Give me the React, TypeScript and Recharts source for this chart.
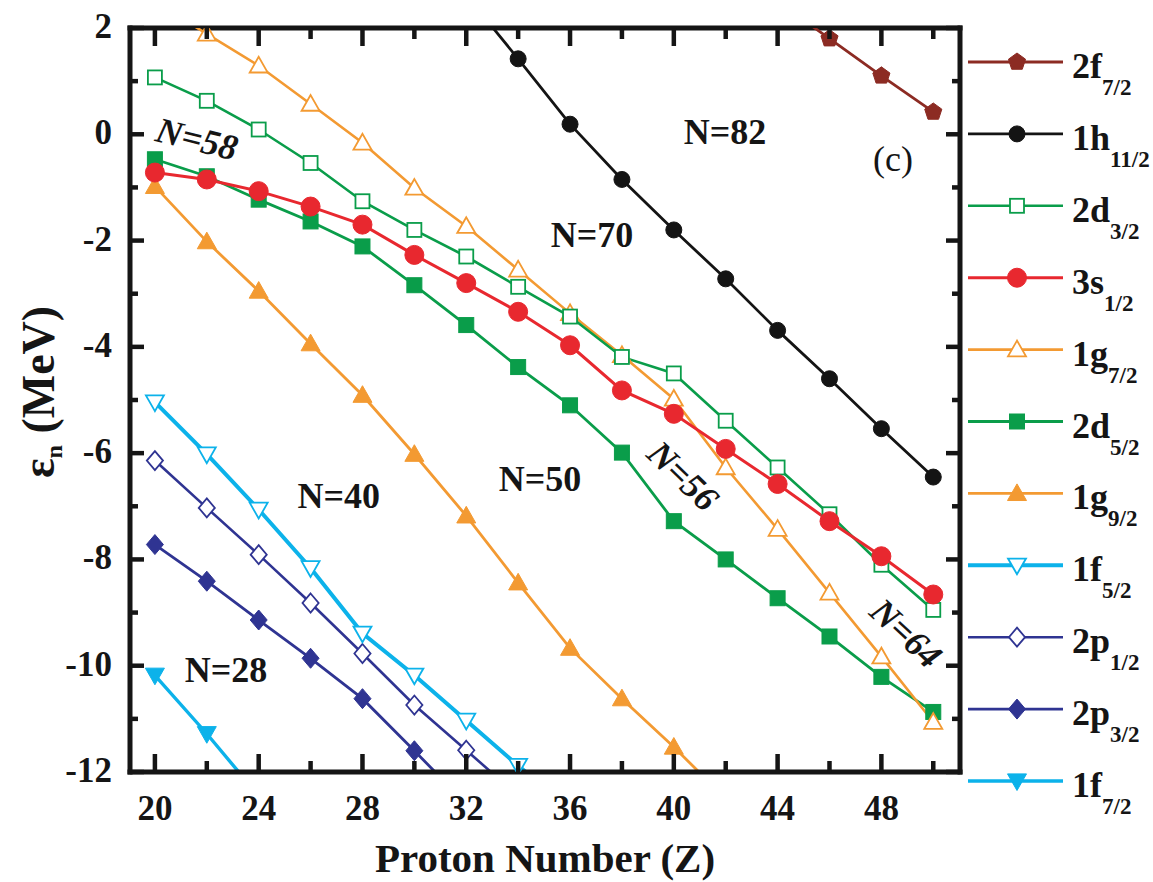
import React from 'react';
import { LineChart, Line, XAxis, YAxis, ReferenceLine, ReferenceDot, Legend, Label } from 'recharts';

const FONT = '"Liberation Serif", Tinos, "Times New Roman", "DejaVu Serif", serif';
const INK = '#151515';

const W = 1153;
const H = 882;
const M_TOP = 28;
const M_RIGHT = 193;
const Y_AXIS_W = 130;
const X_AXIS_H = 110;
const PLOT_W = W - M_RIGHT - Y_AXIS_W;
const PLOT_H = H - M_TOP - X_AXIS_H;

const X_MIN = 19.04;
const X_MAX = 51.03;
const Y_MIN = -12;
const Y_MAX = 2;

const X_TICKS = [20, 22, 24, 26, 28, 30, 32, 34, 36, 38, 40, 42, 44, 46, 48, 50];
const X_LABELED = [20, 24, 28, 32, 36, 40, 44, 48];
const Y_TICKS = [2, 1, 0, -1, -2, -3, -4, -5, -6, -7, -8, -9, -10, -11, -12];
const Y_LABELED = [2, 0, -2, -4, -6, -8, -10, -12];

// Proton numbers and single-particle energies (MeV)
const Z_2F72 = [44, 46, 48, 50];
const E_2F72 = [2.5, 1.8, 1.1, 0.42];

const Z_1H112 = [32, 34, 36, 38, 40, 42, 44, 46, 48, 50];
const E_1H112 = [2.62, 1.42, 0.19, -0.85, -1.8, -2.72, -3.69, -4.6, -5.54, -6.45];

const Z_FULL = [20, 22, 24, 26, 28, 30, 32, 34, 36, 38, 40, 42, 44, 46, 48, 50];
const E_2D32 = [1.07, 0.63, 0.09, -0.54, -1.26, -1.8, -2.3, -2.87, -3.43, -4.19, -4.5, -5.39, -6.27, -7.15, -8.1, -8.95];
const E_3S12 = [-0.72, -0.85, -1.07, -1.36, -1.7, -2.27, -2.8, -3.34, -3.97, -4.82, -5.26, -5.92, -6.58, -7.28, -7.94, -8.66];
const E_1G72 = [2.49, 1.89, 1.29, 0.57, -0.16, -1.01, -1.73, -2.55, -3.37, -4.16, -4.98, -6.27, -7.43, -8.63, -9.83, -11.06];
const E_2D52 = [-0.47, -0.79, -1.23, -1.64, -2.11, -2.84, -3.59, -4.38, -5.1, -5.99, -7.28, -8.0, -8.73, -9.45, -10.21, -10.87];

const Z_1G92 = [20, 22, 24, 26, 28, 30, 32, 34, 36, 38, 40, 42];
const E_1G92 = [-0.98, -2.02, -2.95, -3.94, -4.91, -6.02, -7.18, -8.44, -9.67, -10.62, -11.53, -12.5];

const Z_1F52 = [20, 22, 24, 26, 28, 30, 32, 34, 36];
const E_1F52 = [-5.04, -6.02, -7.06, -8.16, -9.39, -10.18, -11.03, -11.88, -12.7];

const Z_2P12 = [20, 22, 24, 26, 28, 30, 32, 34];
const E_2P12 = [-6.14, -7.03, -7.91, -8.82, -9.77, -10.74, -11.59, -12.45];

const Z_2P32 = [20, 22, 24, 26, 28, 30, 32];
const E_2P32 = [-7.72, -8.41, -9.14, -9.86, -10.62, -11.6, -12.6];

const Z_1F72 = [20, 22, 24];
const E_1F72 = [-10.18, -11.28, -12.45];

type Shape = 'circle' | 'square' | 'triUp' | 'triDown' | 'diamond' | 'pentagon';

interface Series {
  id: string;
  main: string;
  sub: string;
  color: string;
  shape: Shape;
  open: boolean;
  size: number;
  width: number;
  z: number[];
  e: number[];
}

const BROWN = '#8c2b23';
const BLACK = '#141414';
const GREEN = '#0a9d4a';
const RED = '#e8282f';
const ORANGE = '#f39a32';
const CYAN = '#0cb2ea';
const NAVY = '#2f3492';

const S_2F72: Series = { id: '2f72', main: '2f', sub: '7/2', color: BROWN, shape: 'pentagon', open: false, size: 9, width: 2.8, z: Z_2F72, e: E_2F72 };
const S_1H112: Series = { id: '1h112', main: '1h', sub: '11/2', color: BLACK, shape: 'circle', open: false, size: 8, width: 2.8, z: Z_1H112, e: E_1H112 };
const S_2D32: Series = { id: '2d32', main: '2d', sub: '3/2', color: GREEN, shape: 'square', open: true, size: 7, width: 2.6, z: Z_FULL, e: E_2D32 };
const S_3S12: Series = { id: '3s12', main: '3s', sub: '1/2', color: RED, shape: 'circle', open: false, size: 9.5, width: 3, z: Z_FULL, e: E_3S12 };
const S_1G72: Series = { id: '1g72', main: '1g', sub: '7/2', color: ORANGE, shape: 'triUp', open: true, size: 9, width: 2.6, z: Z_FULL, e: E_1G72 };
const S_2D52: Series = { id: '2d52', main: '2d', sub: '5/2', color: GREEN, shape: 'square', open: false, size: 7.5, width: 2.8, z: Z_FULL, e: E_2D52 };
const S_1G92: Series = { id: '1g92', main: '1g', sub: '9/2', color: ORANGE, shape: 'triUp', open: false, size: 9.5, width: 2.8, z: Z_1G92, e: E_1G92 };
const S_1F52: Series = { id: '1f52', main: '1f', sub: '5/2', color: CYAN, shape: 'triDown', open: true, size: 9, width: 4, z: Z_1F52, e: E_1F52 };
const S_2P12: Series = { id: '2p12', main: '2p', sub: '1/2', color: NAVY, shape: 'diamond', open: true, size: 9.5, width: 2.6, z: Z_2P12, e: E_2P12 };
const S_2P32: Series = { id: '2p32', main: '2p', sub: '3/2', color: NAVY, shape: 'diamond', open: false, size: 10, width: 2.8, z: Z_2P32, e: E_2P32 };
const S_1F72: Series = { id: '1f72', main: '1f', sub: '7/2', color: CYAN, shape: 'triDown', open: false, size: 9.5, width: 3.4, z: Z_1F72, e: E_1F72 };

const LEGEND_ORDER: Series[] = [S_2F72, S_1H112, S_2D32, S_3S12, S_1G72, S_2D52, S_1G92, S_1F52, S_2P12, S_2P32, S_1F72];
const DRAW_ORDER: Series[] = [S_1F72, S_2P32, S_2P12, S_1F52, S_1G92, S_2D52, S_1G72, S_2D32, S_3S12, S_1H112, S_2F72];

// Text annotations placed in data coordinates
const NOTE_TEXT = ['N=58', 'N=82', '(c)', 'N=70', 'N=40', 'N=50', 'N=56', 'N=64', 'N=28'];
const NOTE_Z = [21.62, 41.97, 48.45, 36.85, 27.09, 34.84, 40.35, 48.95, 22.74];
const NOTE_E = [-0.09, 0.04, -0.47, -1.89, -6.81, -6.48, -6.43, -9.39, -10.09];
const NOTE_ROT = [14, 0, 0, 0, 0, 0, 44, 43, 0];
const NOTE_ITALIC = [true, false, false, false, false, false, true, true, false];
const NOTE_BOLD = [true, true, false, true, true, true, true, true, true];

const txt = (size: number, weight: string = 'bold', style: string = 'normal') => ({
  fontFamily: FONT,
  fontSize: size,
  fontWeight: weight as any,
  fontStyle: style as any,
});

function toData(s: Series) {
  return s.z.map((z, i) => ({ z, e: s.e[i] }));
}

function Marker({ cx, cy, s }: { cx: number; cy: number; s: Series }) {
  const fill = s.open ? '#ffffff' : s.color;
  const sw = s.open ? 1.8 : 1;
  const r = s.size;
  switch (s.shape) {
    case 'circle':
      return <circle cx={cx} cy={cy} r={r} fill={fill} stroke={s.color} strokeWidth={sw} />;
    case 'square':
      return <rect x={cx - r} y={cy - r} width={2 * r} height={2 * r} fill={fill} stroke={s.color} strokeWidth={sw} />;
    case 'triUp': {
      const pts = `${cx},${cy - r} ${cx - r},${cy + r * 0.75} ${cx + r},${cy + r * 0.75}`;
      return <polygon points={pts} fill={fill} stroke={s.color} strokeWidth={sw} />;
    }
    case 'triDown': {
      const pts = `${cx},${cy + r} ${cx - r},${cy - r * 0.75} ${cx + r},${cy - r * 0.75}`;
      return <polygon points={pts} fill={fill} stroke={s.color} strokeWidth={sw} />;
    }
    case 'diamond': {
      const pts = `${cx},${cy - r} ${cx + r * 0.85},${cy} ${cx},${cy + r} ${cx - r * 0.85},${cy}`;
      return <polygon points={pts} fill={fill} stroke={s.color} strokeWidth={sw} />;
    }
    case 'pentagon': {
      const pts: string[] = [];
      for (let k = 0; k < 5; k++) {
        const a = -Math.PI / 2 + (k * 2 * Math.PI) / 5;
        pts.push(`${cx + r * Math.cos(a)},${cy + r * Math.sin(a)}`);
      }
      return <polygon points={pts.join(' ')} fill={fill} stroke={s.color} strokeWidth={sw} />;
    }
    default:
      return null;
  }
}

function makeDot(s: Series) {
  return (props: any) => {
    const { cx, cy, index } = props;
    if (cx == null || cy == null || isNaN(cx) || isNaN(cy)) return <g key={`${s.id}-${index}`} />;
    return (
      <g key={`${s.id}-${index}`}>
        <Marker cx={cx} cy={cy} s={s} />
      </g>
    );
  };
}

function XTick(props: any) {
  const { x, y, payload } = props;
  const v = payload.value;
  const major = X_LABELED.indexOf(v) >= 0;
  const len = major ? 18 : 11;
  const top = y - PLOT_H;
  return (
    <g>
      <line x1={x} x2={x} y1={y} y2={y - len} stroke={INK} strokeWidth={4.5} />
      <line x1={x} x2={x} y1={top} y2={top + len} stroke={INK} strokeWidth={4.5} />
      {major && (
        <text x={x} y={y + 48} textAnchor="middle" style={txt(35)} fill={INK}>
          {v}
        </text>
      )}
    </g>
  );
}

function YTick(props: any) {
  const { x, y, payload } = props;
  const v = payload.value;
  const major = Y_LABELED.indexOf(v) >= 0;
  const len = major ? 14 : 8;
  const right = x + PLOT_W;
  return (
    <g>
      <line x1={x} x2={x + len} y1={y} y2={y} stroke={INK} strokeWidth={4.5} />
      <line x1={right} x2={right - len} y1={y} y2={y} stroke={INK} strokeWidth={4.5} />
      {major && (
        <text x={x - 18} y={y + 10} textAnchor="end" style={txt(35)} fill={INK}>
          {v}
        </text>
      )}
    </g>
  );
}

function XTitle(props: any) {
  const vb = props.viewBox || { x: Y_AXIS_W, y: M_TOP + PLOT_H, width: PLOT_W, height: X_AXIS_H };
  return (
    <text x={vb.x + vb.width / 2} y={vb.y + 100} textAnchor="middle" style={txt(41)} fill={INK}>
      Proton Number (Z)
    </text>
  );
}

function YTitle(props: any) {
  const vb = props.viewBox || { x: 0, y: M_TOP, width: Y_AXIS_W, height: PLOT_H };
  const cx = 54;
  const cy = vb.y + vb.height / 2 - 8;
  return (
    <text x={cx} y={cy} transform={`rotate(-90 ${cx} ${cy})`} textAnchor="middle" style={txt(46)} fill={INK}>
      ε
      <tspan fontSize={24} dy={8}>n</tspan>
      <tspan dy={-8}> (MeV)</tspan>
    </text>
  );
}

function renderLegend() {
  return (
    <svg width={M_RIGHT} height={H} style={{ display: 'block', overflow: 'visible' }}>
      {LEGEND_ORDER.map((s, i) => {
        const y = 62 + i * 71.9;
        return (
          <g key={s.id}>
            <line x1={8} x2={103} y1={y} y2={y} stroke={s.color} strokeWidth={s.width} />
            <Marker cx={57} cy={y} s={s} />
            <text x={112} y={y + 16} style={txt(36)} fill={INK}>
              {s.main}
              <tspan style={{ fontSize: 23 }} dy={17}>{s.sub}</tspan>
            </text>
          </g>
        );
      })}
    </svg>
  );
}

function noteShape(i: number) {
  return (props: any) => {
    const { cx, cy } = props;
    if (cx == null || cy == null) return <g />;
    return (
      <text
        x={cx}
        y={cy}
        textAnchor="middle"
        dominantBaseline="central"
        transform={NOTE_ROT[i] ? `rotate(${NOTE_ROT[i]} ${cx} ${cy})` : undefined}
        style={txt(36, NOTE_BOLD[i] ? 'bold' : 'normal', NOTE_ITALIC[i] ? 'italic' : 'normal')}
        fill={INK}
      >
        {NOTE_TEXT[i]}
      </text>
    );
  };
}

export default function App() {
  return (
    <div style={{ position: 'absolute', left: 0, top: 0, width: W, height: H, background: '#fff', fontFamily: FONT }}>
      <LineChart width={W} height={H} margin={{ top: M_TOP, right: M_RIGHT, bottom: 0, left: 0 }}>
        <XAxis
          type="number"
          dataKey="z"
          domain={[X_MIN, X_MAX]}
          allowDataOverflow
          ticks={X_TICKS}
          interval={0}
          height={X_AXIS_H}
          tickSize={0}
          tickMargin={0}
          tickLine={false}
          tick={<XTick />}
          axisLine={{ stroke: INK, strokeWidth: 5, strokeLinecap: 'square' }}
        >
          <Label content={<XTitle />} />
        </XAxis>
        <YAxis
          type="number"
          dataKey="e"
          domain={[Y_MIN, Y_MAX]}
          allowDataOverflow
          ticks={Y_TICKS}
          interval={0}
          width={Y_AXIS_W}
          tickSize={0}
          tickMargin={0}
          tickLine={false}
          tick={<YTick />}
          axisLine={{ stroke: INK, strokeWidth: 5, strokeLinecap: 'square' }}
        >
          <Label content={<YTitle />} />
        </YAxis>
        <ReferenceLine y={Y_MAX} stroke={INK} strokeWidth={5} strokeLinecap="square" />
        <ReferenceLine x={X_MAX} stroke={INK} strokeWidth={5} strokeLinecap="square" />
        {DRAW_ORDER.map((s) => (
          <Line
            key={s.id}
            data={toData(s)}
            dataKey="e"
            name={s.id}
            type="linear"
            stroke={s.color}
            strokeWidth={s.width}
            dot={makeDot(s)}
            activeDot={false}
            isAnimationActive={false}
            legendType="none"
          />
        ))}
        {NOTE_TEXT.map((t, i) => (
          <ReferenceDot key={t} x={NOTE_Z[i]} y={NOTE_E[i]} r={0} ifOverflow="visible" shape={noteShape(i)} />
        ))}
        <Legend
          layout="vertical"
          align="center"
          verticalAlign="middle"
          content={renderLegend}
          wrapperStyle={{ position: 'absolute', left: W - M_RIGHT, top: 0, width: M_RIGHT, height: H }}
        />
      </LineChart>
    </div>
  );
}
